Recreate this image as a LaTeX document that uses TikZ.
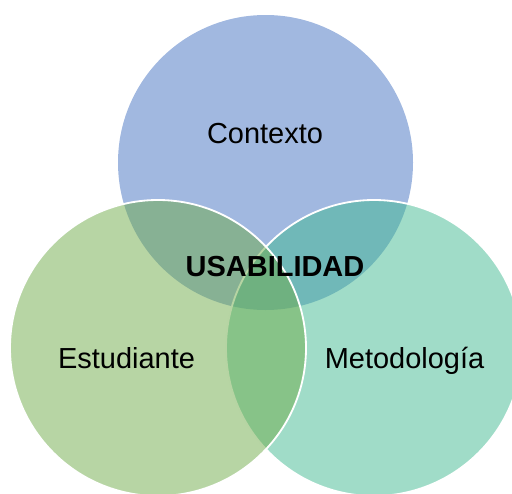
\documentclass[tikz,border=0pt]{standalone}
\usepackage{fontspec}
\setmainfont{Liberation Sans}
\usepackage{tikz}
\usetikzlibrary{positioning}
\definecolor{ctxcolor}{RGB}{67, 113, 193}
\definecolor{estcolor}{RGB}{111, 171, 73}
\definecolor{metcolor}{RGB}{65, 185, 145}

\begin{document}
\begin{tikzpicture}[
    x=0.025cm, y=-0.025cm,
    venn/.style={circle, inner sep=0pt, minimum size=296*0.025cm, fill opacity=0.5, draw opacity=1},
    venntext/.style={font=\fontsize{20.6}{24}\selectfont, anchor=base}
]
    \useasboundingbox (0,0) rectangle (512,493);
    \clip (0,0) rectangle (512,493);

    % Circles
    \node[venn, fill=ctxcolor, minimum size=295*0.025cm] (contexto) at (265.5,162.5) {};
    \node[venn, fill=metcolor, draw=white, line width=1.3pt] (metodologia) at (374,348) {};
    \node[venn, fill=estcolor, draw=white, line width=1.3pt] (estudiante) at (158,348) {};

    % Labels
    \node[venntext] (ctxtext) at (265,143) {Contexto};
    \node[venntext] (esttext) at (126.5,368) {Estudiante};
    \node[venntext] (mettext) at (404.5,368) {Metodología};
    \node[venntext, font=\fontsize{20.6}{24}\selectfont\bfseries] (usabilidad) at (275,276) {USABILIDAD};
\end{tikzpicture}
\end{document}
